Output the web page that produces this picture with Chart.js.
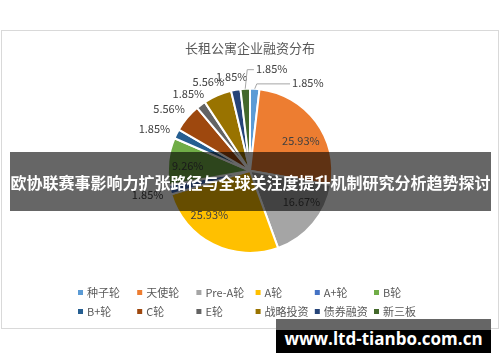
<!DOCTYPE html>
<html>
<head>
<meta charset="utf-8">
<script src="https://cdn.jsdelivr.net/npm/chart.js@4.4.0/dist/chart.umd.min.js"></script>
<style>
  html, body { margin: 0; padding: 0; background: #fff; }
  #wrap { position: relative; width: 500px; height: 362px; overflow: hidden; }
  #banner {
    position: absolute; left: 10px; top: 152px; width: 481px; height: 59px;
    background: rgba(0, 0, 0, 0.6); color: #fff;
    font: bold 16px "Noto Sans CJK SC", sans-serif; line-height: 60px;
    text-align: center; white-space: nowrap;
  }
  #mark {
    position: absolute; left: 276px; top: 319px; width: 215px; height: 34px;
    background: linear-gradient(#666 0, #666 11px, #000 11px);
  }
  #mark span {
    position: absolute; left: 0; right: 0; top: 8px; text-align: center;
    color: #fff; font: bold 17px "Open Sans", sans-serif; white-space: nowrap;
  }
</style>
</head>
<body>
<div id="wrap">
  <canvas id="c" width="500" height="362"></canvas>
  <div id="banner">欧协联赛事影响力扩张路径与全球关注度提升机制研究分析趋势探讨</div>
  <div id="mark"><span>www.ltd-tianbo.com.cn</span></div>
</div>
<script>
const title = "长租公寓企业融资分布";
const categories = ["种子轮", "天使轮", "Pre-A轮", "A轮", "A+轮", "B轮", "B+轮", "C轮", "E轮", "战略投资", "债券融资", "新三板"];
const shares = [1.85, 25.93, 16.67, 25.93, 1.85, 9.26, 1.85, 5.56, 1.85, 5.56, 1.85, 1.85];
const colors = ["#5B9BD5", "#ED7D31", "#A5A5A5", "#FFC000", "#4472C4", "#70AD47",
  "#255E91", "#9E480E", "#636363", "#997300", "#264478", "#43682B"];

// label placement: radius factor, angle shift (deg), leader line
const labelLayout = [
  [1.28, 30, true], [0.72, 6], [0.73, -9], [0.73, 16], [1.28, 0], [0.76, -2],
  [1.27, -3], [1.24, -2.6], [1.2, -2], [1.2, -1.7], [1.17, -1], [1.27, 15.3, true],
];

const frame = {
  id: "frame",
  beforeDraw(chart) {
    const ctx = chart.ctx;
    ctx.save();
    ctx.strokeStyle = "#d9d9d9";
    ctx.lineWidth = 1;
    ctx.strokeRect(1.5, 30.5, 497, 298);
    ctx.restore();
  },
};

const pctLabels = {
  id: "pctLabels",
  afterDatasetsDraw(chart) {
    const ctx = chart.ctx;
    const meta = chart.getDatasetMeta(0);
    ctx.save();
    ctx.font = '11px "Noto Sans CJK SC", sans-serif';
    ctx.fillStyle = "#404040";
    ctx.textAlign = "center";
    ctx.textBaseline = "middle";
    meta.data.forEach((arc, i) => {
      const { x, y, startAngle, endAngle, outerRadius } = arc.getProps(
        ["x", "y", "startAngle", "endAngle", "outerRadius"], true);
      const [f, shift, leader] = labelLayout[i];
      const mid = (startAngle + endAngle) / 2;
      const a = mid + shift * Math.PI / 180;
      const lx = x + Math.cos(a) * outerRadius * f;
      const ly = y + Math.sin(a) * outerRadius * f;
      const text = shares[i].toFixed(2) + "%";
      if (leader) {
        const w = ctx.measureText(text).width;
        const ex = x + Math.cos(mid) * outerRadius;
        const ey = y + Math.sin(mid) * outerRadius;
        ctx.strokeStyle = "#a6a6a6";
        ctx.lineWidth = 1;
        ctx.beginPath();
        ctx.moveTo(ex, ey);
        if (lx > ex + w / 2) {
          ctx.lineTo(ex + 2, ly + 1);
        }
        ctx.lineTo(lx - w / 2 - 2, ly + 1);
        ctx.stroke();
      }
      ctx.fillText(text, lx, ly);
    });
    ctx.restore();
  },
};

const gridLegend = {
  id: "gridLegend",
  afterDraw(chart) {
    const ctx = chart.ctx;
    ctx.save();
    ctx.font = '11px "Noto Sans CJK SC", sans-serif';
    ctx.textBaseline = "middle";
    categories.forEach((name, i) => {
      const col = i % 6;
      const row = Math.floor(i / 6);
      const x = 78 + col * 59.2;
      const y = 292 + row * 19;
      ctx.fillStyle = colors[i];
      ctx.fillRect(x, y - 2, 5, 5);
      ctx.fillStyle = "#595959";
      ctx.fillText(name, x + 9, y + 1);
    });
    ctx.restore();
  },
};

new Chart(document.getElementById("c"), {
  type: "pie",
  data: {
    labels: categories,
    datasets: [{
      data: shares,
      backgroundColor: colors,
      borderColor: "#ffffff",
      borderWidth: 2,
    }],
  },
  options: {
    responsive: false,
    animation: false,
    layout: { padding: { top: 0, bottom: 108, left: 0, right: 0 } },
    plugins: {
      legend: { display: false },
      tooltip: { enabled: false },
      title: {
        display: true,
        text: title,
        color: "#595959",
        font: { family: '"Noto Sans CJK SC", sans-serif', size: 13, weight: "normal" },
        padding: { top: 40, bottom: 32 },
      },
    },
  },
  plugins: [frame, pctLabels, gridLegend],
});
</script>
</body>
</html>
